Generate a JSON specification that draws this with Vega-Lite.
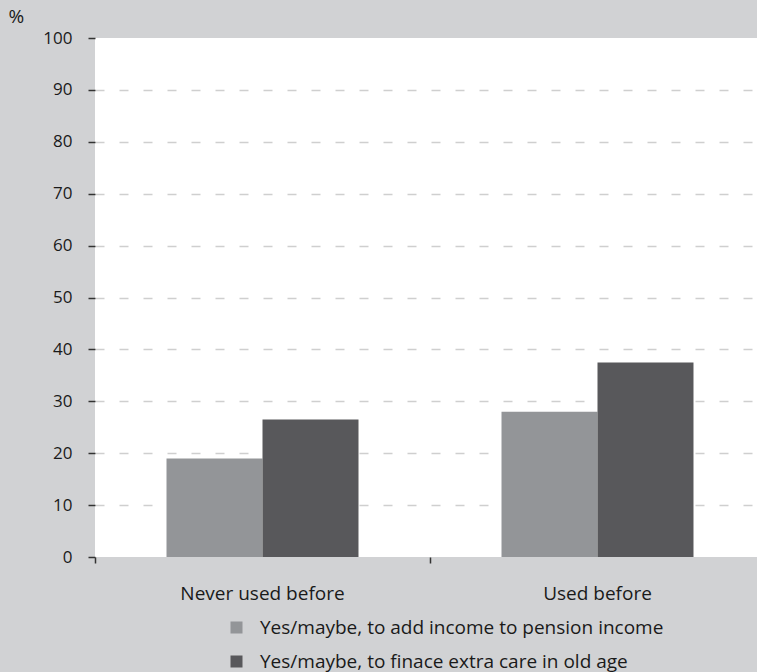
{
  "$schema": "https://vega.github.io/schema/vega-lite/v6.json",
  "autosize": {"type": "none"},
  "padding": {"left": 95, "top": 38, "right": 0, "bottom": 115},
  "width": 662,
  "height": 519,
  "background": "#d1d2d4",
  "data": {
    "values": [
      {"group": "Never used before", "purpose": "Yes/maybe, to add income to pension income", "value": 19},
      {"group": "Never used before", "purpose": "Yes/maybe, to finace extra care in old age", "value": 26.5},
      {"group": "Used before", "purpose": "Yes/maybe, to add income to pension income", "value": 28},
      {"group": "Used before", "purpose": "Yes/maybe, to finace extra care in old age", "value": 37.5}
    ]
  },
  "mark": {"type": "bar"},
  "encoding": {
    "x": {
      "field": "group",
      "type": "nominal",
      "sort": null,
      "scale": {"range": [0, 670], "paddingInner": 0, "paddingOuter": 0},
      "axis": {
        "title": null,
        "domain": false,
        "bandPosition": 0,
        "ticks": true,
        "tickSize": 6,
        "tickColor": "#333333",
        "tickWidth": 1.5,
        "labelAngle": 0,
        "labelPadding": 21,
        "labelFont": "Open Sans",
        "labelFontSize": 19,
        "labelColor": "#1a1a1a"
      }
    },
    "xOffset": {
      "field": "purpose",
      "type": "nominal",
      "sort": null,
      "scale": {"paddingInner": 0, "paddingOuter": 0.745}
    },
    "y": {
      "field": "value",
      "type": "quantitative",
      "scale": {"domain": [0, 100], "nice": false},
      "axis": {
        "values": [0, 10, 20, 30, 40, 50, 60, 70, 80, 90, 100],
        "title": "%",
        "titleAngle": 0,
        "titleAlign": "left",
        "titleBaseline": "alphabetic",
        "titleX": -87,
        "titleY": -16,
        "titleFont": "Open Sans",
        "titleFontSize": 19,
        "titleFontWeight": "normal",
        "titleColor": "#1a1a1a",
        "domain": false,
        "tickSize": 7,
        "tickColor": "#333333",
        "tickWidth": 1.5,
        "labelPadding": 16,
        "labelFont": "Open Sans",
        "labelFontSize": 17,
        "labelColor": "#1a1a1a",
        "grid": true,
        "gridColor": "#cfcfcf",
        "gridWidth": 1.5,
        "gridDash": [9, 15],
        "gridOpacity": {"condition": {"test": "datum.value == 0 || datum.value == 100", "value": 0}, "value": 1}
      }
    },
    "color": {
      "field": "purpose",
      "type": "nominal",
      "sort": null,
      "scale": {"range": ["#939598", "#58585b"]},
      "legend": {
        "title": null,
        "orient": "none",
        "legendX": 132,
        "legendY": 580,
        "padding": 0,
        "symbolType": "square",
        "symbolSize": 144,
        "symbolStrokeWidth": 0,
        "labelOffset": 14,
        "labelFont": "Open Sans",
        "labelFontSize": 19,
        "labelColor": "#1a1a1a",
        "labelLimit": 600,
        "rowPadding": 14
      }
    }
  },
  "config": {
    "view": {"fill": "#ffffff", "stroke": null}
  }
}
